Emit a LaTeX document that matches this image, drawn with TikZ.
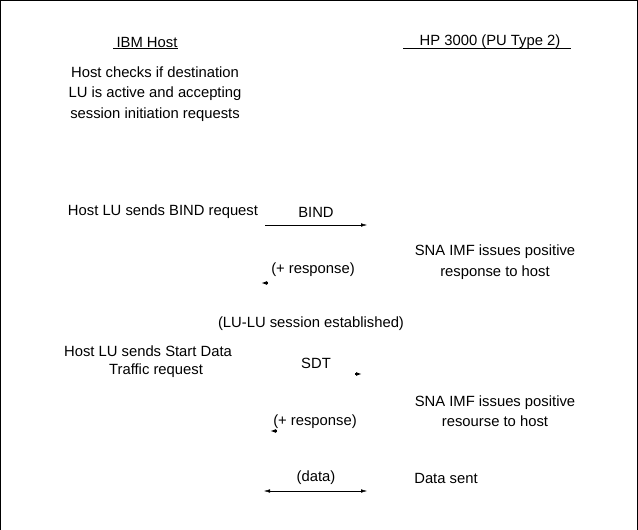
\documentclass[tikz,border=0pt]{standalone}
\usepackage{fontspec}
\setmainfont{Liberation Sans}
\usetikzlibrary{arrows.meta}

\begin{document}
\begin{tikzpicture}[
  x=1pt, y=-1pt,
  lbl/.style={font=\fontsize{14.8}{20.5}\selectfont, align=center, inner sep=0pt},
  msg/.style={thin, {Latex[length=6pt,width=3.5pt]}-{Latex[length=6pt,width=3.5pt]}},
  stub/.style={line width=1.2pt, -{Latex[length=6pt,width=4pt]}},
]
\useasboundingbox (0,0) rectangle (638,530);
\draw[line width=1.2pt] (0.6,530) -- (0.6,0.6) -- (637.4,0.6) -- (637.4,530);

% column heads
\node[lbl] (ibm) at (147,42) {IBM Host};
\draw (113,48.5) -- (178,48.5);
\node[lbl] (hp) at (490,42) {HP 3000 (PU Type 2)};
\draw (403,48.5) -- (571,48.5);

\node[lbl] (check) at (155,94) {Host checks if destination\\
  LU is active and accepting\\session initiation requests};

% BIND
\node[lbl] (bindreq) at (163,212) {Host LU sends BIND request};
\node[lbl] (bind) at (316,212) {BIND};
\coordinate (b1) at (265,225);
\coordinate (b2) at (367,225);
\draw[-{Latex[length=6pt,width=3.5pt]}] (b1) -- (b2);

\node[lbl] (imf1) at (495,262) {SNA IMF issues positive\\response to host};
\node[lbl] (resp1) at (313,270) {(+ response)};
\coordinate (r1a) at (268,283);
\coordinate (r1b) at (261,283);
\draw[stub] (r1a) -- (r1b);

\node[lbl] (est) at (311,324) {(LU-LU session established)};

% SDT
\node[lbl] (sdtreq) at (148,351) {Host LU sends Start Data};
\node[lbl] (sdtreq2) at (156,371) {Traffic request};
\node[lbl] (sdt) at (316,363) {SDT};
\coordinate (s1) at (355,374);
\coordinate (s2) at (362,374);
\draw[stub] (s1) -- (s2);

\node[lbl] (imf2) at (495,411) {SNA IMF issues positive\\resourse to host};
\node[lbl] (resp2) at (315,422) {(+ response)};
\coordinate (r2a) at (277,431);
\coordinate (r2b) at (270,431);
\draw[stub] (r2a) -- (r2b);

% data
\node[lbl] (data) at (316,478) {(data)};
\node[lbl] (sent) at (446,478) {Data sent};
\coordinate (d1) at (264,491);
\coordinate (d2) at (367,491);
\draw[msg] (d1) -- (d2);
\end{tikzpicture}
\end{document}
